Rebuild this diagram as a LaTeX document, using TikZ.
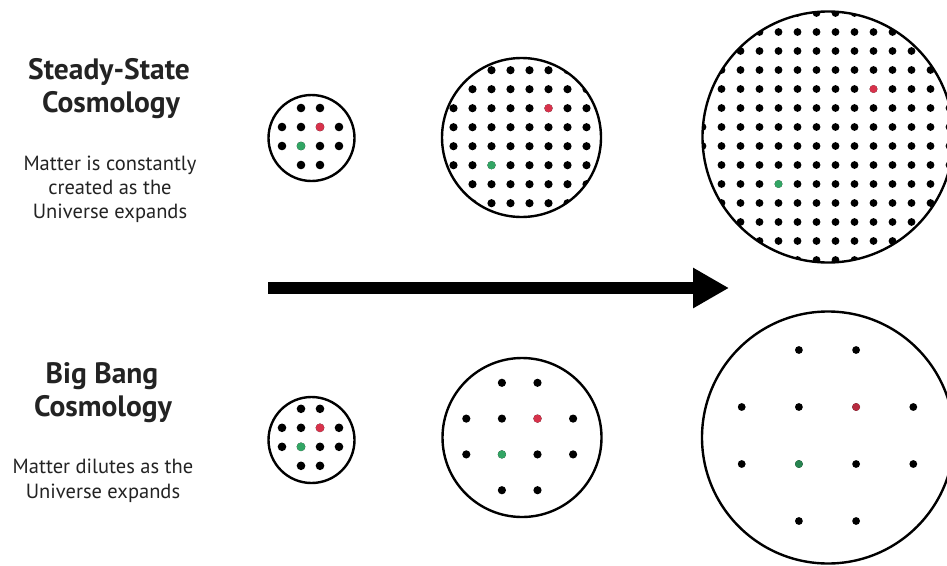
\documentclass[tikz,border=0pt]{standalone}
\usepackage{fontspec}
\setmainfont{PT Sans}
\usetikzlibrary{arrows.meta}
\definecolor{sred}{RGB}{215,50,75}
\definecolor{sgreen}{RGB}{50,165,100}
\definecolor{txt}{RGB}{35,35,35}
\begin{document}
\begin{tikzpicture}[x=1pt,y=-1pt,
  ring/.style={circle,draw=black,line width=2.4pt,inner sep=0pt,minimum size=#1},
  head/.style={anchor=base,font=\fontsize{29.5}{33}\selectfont\bfseries,text=txt,inner sep=0pt},
  body/.style={anchor=base,font=\fontsize{20.5}{24}\selectfont,text=txt,inner sep=0pt}]
\useasboundingbox (0,0) rectangle (947,565);
\fill[white] (0,0) rectangle (947,565);

% ---------- texts ----------
\node[head] (h1a) at (109,79) {Steady-State};
\node[head] (h1b) at (111,112) {Cosmology};
\node[body] (b1a) at (110,170) {Matter is constantly};
\node[body] (b1b) at (110,194) {created as the};
\node[body] (b1c) at (110,218) {Universe expands};

\node[head] (h2a) at (102,383) {Big Bang};
\node[head] (h2b) at (103,416) {Cosmology};
\node[body] (b2a) at (103,473) {Matter dilutes as the};
\node[body] (b2b) at (103,498) {Universe expands};

% ---------- arrow ----------
\coordinate (as) at (268,288);
\coordinate (ae) at (729,288);
\draw[line width=12pt,-{Triangle[length=36pt,width=38pt]}] (as) -- (ae);

% ---------- top row (steady state) ----------
% small
\foreach \i in {-1.5,-0.5,0.5,1.5}{
  \foreach \j in {-1.5,-0.5,0.5,1.5}{
    \pgfmathparse{(abs(\i)==1.5 && abs(\j)==1.5) ? 0 : 1}
    \ifnum\pgfmathresult=1
      \fill (310.5+19*\i,136.5+19*\j) circle (4.3);
    \fi
  }}
\fill[sred] (310.5+9.5,136.5-9.5) circle (4.3);
\fill[sgreen] (310.5-9.5,136.5+9.5) circle (4.3);
\node[ring=86pt] (c1) at (311.5,138) {};

% medium
\begin{scope}
\clip (521.5,137.5) circle (79.5);
\foreach \i in {-3.5,-2.5,...,3.5}{
  \foreach \j in {-3.5,-2.5,...,3.5}{
    \fill (520+19*\i,136.7+19*\j) circle (4.1);
  }}
\fill[sred] (520+28.5,136.7-28.5) circle (4.1);
\fill[sgreen] (520-28.5,136.7+28.5) circle (4.1);
\end{scope}
\node[ring=159pt] (c2) at (521.5,137.5) {};

% large
\begin{scope}
\clip (828,137) circle (125.5);
\foreach \i in {-6.5,-5.5,...,6.5}{
  \foreach \j in {-6.5,-5.5,...,6.5}{
    \fill (826+19*\i,136.5+19*\j) circle (3.9);
  }}
\fill[sred] (826+47.5,136.5-47.5) circle (3.9);
\fill[sgreen] (826-47.5,136.5+47.5) circle (3.9);
\end{scope}
\node[ring=251pt] (c3) at (828,137) {};

% ---------- bottom row (big bang) ----------
% small
\foreach \i in {-1.5,-0.5,0.5,1.5}{
  \foreach \j in {-1.5,-0.5,0.5,1.5}{
    \pgfmathparse{(abs(\i)==1.5 && abs(\j)==1.5) ? 0 : 1}
    \ifnum\pgfmathresult=1
      \fill (310.5+19*\i,437.3+19*\j) circle (4.3);
    \fi
  }}
\fill[sred] (310.5+9.5,437.3-9.5) circle (4.3);
\fill[sgreen] (310.5-9.5,437.3+9.5) circle (4.3);
\node[ring=86pt] (d1) at (311.5,440) {};

% medium
\foreach \i in {-1.5,-0.5,0.5,1.5}{
  \foreach \j in {-1.5,-0.5,0.5,1.5}{
    \pgfmathparse{(abs(\i)==1.5 && abs(\j)==1.5) ? 0 : 1}
    \ifnum\pgfmathresult=1
      \fill (519.7+35.6*\i,436.5+35.8*\j) circle (4.1);
    \fi
  }}
\fill[sred] (519.7+17.8,436.5-17.9) circle (4.1);
\fill[sgreen] (519.7-17.8,436.5+17.9) circle (4.1);
\node[ring=159pt] (d2) at (522,437.5) {};

% large
\foreach \i in {-1.5,-0.5,0.5,1.5}{
  \foreach \j in {-1.5,-0.5,0.5,1.5}{
    \pgfmathparse{(abs(\i)==1.5 && abs(\j)==1.5) ? 0 : 1}
    \ifnum\pgfmathresult=1
      \fill (827.5+57.2*\i,435.5+57*\j) circle (3.9);
    \fi
  }}
\fill[sred!85!black] (827.5+28.6,435.5-28.5) circle (3.9);
\fill[sgreen!80!black] (827.5-28.6,435.5+28.5) circle (3.9);
\node[ring=252pt] (d3) at (828,437.5) {};
\end{tikzpicture}
\end{document}
